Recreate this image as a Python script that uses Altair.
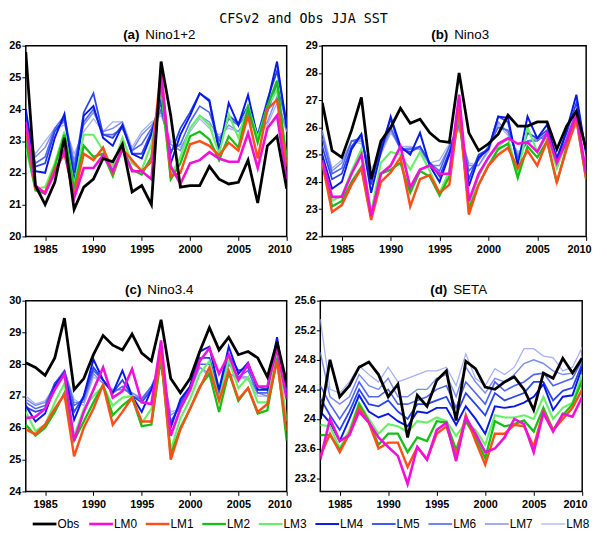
import altair as alt
import pandas as pd

years = list(range(1983, 2011))
names = ["Obs", "LM0", "LM1", "LM2", "LM3", "LM4", "LM5", "LM6", "LM7", "LM8"]
colors = ["#000000", "#f010d8", "#ff4e18", "#14c014", "#66f066", "#0818e6",
          "#2a44f2", "#5066f0", "#7a8cf2", "#a8b2f2"]
widths = [2.8, 1.3, 1.3, 1.3, 1.3, 1.3, 1.3, 1.3, 1.3, 1.3]

# ---------------- (a) Nino1+2 ----------------
a_obs = [25.8, 21.6, 21.0, 21.7, 23.1, 20.85, 21.55, 21.8, 22.45, 22.35, 22.9, 21.4, 21.6, 21.0,
         25.5, 23.8, 21.55, 21.6, 21.6, 22.2, 21.8, 21.65, 21.7, 22.4, 21.05, 22.85, 23.15, 21.5]
a_lm0 = [23.6, 21.6, 21.35, 22.0, 22.7, 21.2, 22.15, 22.15, 22.55, 22.05, 22.75, 22.05, 22.05, 21.8,
         25.1, 22.2, 21.65, 22.3, 22.4, 22.65, 22.45, 22.35, 22.35, 23.25, 22.15, 23.4, 23.8, 21.8]
a_lm1 = [23.4, 21.5, 21.4, 22.1, 22.6, 21.3, 22.6, 22.4, 22.8, 22.0, 22.75, 22.4, 22.05, 22.35,
         25.3, 21.9, 22.0, 22.9, 23.0, 22.85, 22.55, 22.95, 22.7, 23.8, 22.45, 24.0, 24.3, 22.2]
a_lm2 = [23.0, 21.45, 21.35, 22.2, 23.2, 21.5, 22.85, 22.5, 22.6, 21.9, 22.8, 22.1, 21.95, 22.5,
         24.8, 21.8, 22.3, 23.15, 23.3, 23.05, 22.4, 23.15, 22.8, 24.05, 22.95, 24.1, 24.9, 22.3]
a_lm3 = [22.8, 21.5, 21.55, 22.3, 23.3, 21.6, 23.2, 23.2, 22.7, 22.2, 23.1, 22.3, 22.1, 22.9,
         24.6, 21.9, 22.5, 23.4, 23.8, 23.5, 22.6, 23.85, 23.1, 24.1, 23.1, 24.1, 24.6, 22.5]
a_lm4 = [24.0, 22.05, 22.0, 23.1, 23.85, 21.7, 23.8, 24.1, 23.1, 22.85, 23.5, 22.6, 22.45, 23.2,
         24.4, 22.3, 23.2, 23.8, 24.5, 24.25, 22.65, 24.2, 23.5, 24.45, 23.1, 24.2, 25.5, 23.4]
a_lm5 = [23.8, 22.2, 22.3, 23.3, 23.7, 22.0, 23.9, 24.5, 23.2, 23.1, 23.5, 22.6, 22.6, 23.3,
         24.2, 22.6, 23.4, 23.9, 24.5, 24.3, 22.8, 23.8, 23.55, 24.1, 23.2, 24.3, 25.2, 23.6]
a_lm6 = [23.6, 22.3, 22.5, 23.4, 23.8, 22.2, 23.6, 24.0, 23.2, 23.2, 23.4, 22.7, 22.9, 23.4,
         24.0, 22.7, 22.9, 23.6, 24.1, 23.9, 23.0, 23.7, 23.5, 23.9, 23.1, 23.9, 24.8, 23.5]
a_lm7 = [23.4, 22.5, 22.8, 23.4, 23.6, 22.4, 23.5, 23.9, 23.3, 23.4, 23.6, 22.7, 23.2, 23.5,
         23.9, 22.9, 22.7, 23.4, 23.8, 23.6, 23.1, 23.5, 23.3, 23.8, 23.2, 23.6, 24.4, 23.3]
a_lm8 = [23.2, 22.6, 23.0, 23.4, 23.5, 22.6, 23.3, 23.7, 23.3, 23.6, 23.6, 22.8, 23.3, 23.6,
         23.8, 23.0, 22.8, 23.3, 23.7, 23.4, 23.2, 23.4, 23.3, 23.7, 23.2, 23.5, 24.2, 23.3]

# ---------------- (b) Nino3 ----------------
b_obs = [26.9, 25.15, 24.9, 25.9, 27.1, 24.1, 25.5, 26.0, 26.7, 26.15, 26.3, 25.8, 25.5, 25.45,
         28.0, 25.8, 25.15, 25.4, 25.75, 26.45, 26.05, 26.05, 26.2, 26.2, 25.2, 26.05, 26.6, 25.2]
b_lm0 = [24.8, 23.45, 23.45, 24.3, 25.0, 22.75, 24.3, 24.6, 25.3, 23.8, 24.45, 24.6, 24.3, 24.3,
         27.2, 23.3, 24.3, 24.9, 25.4, 25.6, 25.4, 25.45, 25.1, 25.8, 24.7, 25.5, 26.5, 24.3]
b_lm1 = [24.7, 22.9, 23.15, 23.9, 24.5, 22.6, 24.0, 24.35, 24.9, 23.1, 24.1, 24.25, 23.6, 23.9,
         26.7, 22.8, 23.9, 24.6, 25.0, 25.25, 24.5, 25.15, 24.6, 25.5, 24.0, 25.2, 26.3, 24.1]
b_lm2 = [24.7, 23.1, 23.3, 24.0, 24.55, 22.7, 24.3, 24.45, 24.7, 23.6, 24.4, 24.2, 23.5, 24.2,
         26.6, 23.0, 23.9, 24.6, 25.2, 25.4, 24.15, 25.3, 24.9, 25.5, 23.95, 25.3, 26.3, 24.1]
b_lm3 = [24.7, 23.3, 23.5, 24.4, 25.2, 22.9, 24.7, 25.1, 25.0, 24.45, 25.1, 24.4, 23.6, 24.4,
         26.4, 23.1, 24.2, 24.9, 25.3, 25.6, 24.3, 26.0, 25.1, 25.7, 24.5, 25.5, 26.4, 24.3]
b_lm4 = [25.0, 23.75, 24.0, 25.2, 25.75, 23.6, 25.1, 26.4, 25.3, 25.0, 25.8, 24.6, 24.0, 25.0,
         26.3, 23.85, 24.9, 25.2, 26.4, 26.35, 24.6, 26.4, 25.6, 26.1, 24.8, 25.9, 27.2, 25.0]
b_lm5 = [25.3, 24.1, 24.3, 25.3, 25.75, 23.9, 25.3, 26.3, 25.2, 25.1, 25.3, 24.7, 24.2, 25.1,
         26.2, 24.1, 25.0, 25.2, 26.4, 26.2, 24.7, 25.8, 25.6, 25.9, 24.9, 25.8, 26.9, 25.1]
b_lm6 = [25.6, 24.3, 24.5, 25.5, 25.6, 24.1, 25.2, 26.0, 25.2, 25.2, 25.3, 24.7, 24.4, 25.3,
         26.1, 24.4, 24.8, 25.3, 26.0, 25.9, 24.9, 25.5, 25.5, 25.8, 24.8, 25.6, 26.6, 25.2]
b_lm7 = [25.8, 24.4, 24.7, 25.5, 25.5, 24.3, 25.1, 25.9, 25.2, 25.25, 25.2, 24.6, 24.6, 25.3,
         26.0, 24.6, 24.6, 25.2, 26.2, 25.8, 25.0, 25.5, 25.6, 25.6, 24.9, 25.4, 26.3, 25.3]
b_lm8 = [25.9, 24.5, 24.8, 25.5, 25.4, 24.5, 25.0, 25.8, 25.3, 25.3, 25.2, 24.7, 24.8, 25.4,
         25.9, 24.7, 24.6, 25.1, 26.1, 25.7, 25.1, 25.4, 25.6, 25.6, 25.0, 25.3, 26.1, 25.3]

# ---------------- (c) Nino3.4 ----------------
c_obs = [28.05, 27.9, 27.65, 28.2, 29.45, 27.2, 27.55, 28.3, 28.9, 28.6, 28.45, 28.95, 28.35, 28.1,
         29.4, 27.55, 27.1, 27.55, 28.4, 29.15, 28.45, 28.85, 28.3, 28.4, 28.2, 27.6, 28.7, 27.4]
c_lm0 = [26.3, 26.35, 26.6, 27.2, 27.7, 25.6, 26.5, 27.2, 27.9, 26.95, 27.15, 27.85, 26.8, 26.75,
         28.75, 25.75, 26.6, 27.2, 28.1, 28.5, 27.7, 28.3, 27.5, 28.0, 27.3, 27.3, 28.5, 26.9]
c_lm1 = [25.95, 25.8, 26.1, 26.6, 27.05, 25.1, 26.0, 26.6, 27.35, 26.1, 26.5, 26.95, 26.2, 26.2,
         28.4, 25.0, 25.95, 26.6, 27.25, 27.9, 26.85, 27.8, 26.9, 27.25, 26.5, 26.75, 28.1, 25.9]
c_lm2 = [26.1, 25.75, 26.0, 26.5, 27.1, 25.6, 26.2, 26.8, 27.35, 26.4, 26.7, 26.95, 26.05, 26.1,
         28.2, 25.15, 26.0, 26.6, 27.3, 27.7, 26.5, 27.75, 26.85, 27.25, 26.45, 26.55, 28.2, 25.6]
c_lm3 = [26.5, 25.9, 26.1, 26.8, 27.4, 25.75, 26.6, 27.0, 27.3, 26.7, 26.95, 27.0, 26.15, 26.6,
         28.2, 25.3, 26.3, 26.9, 27.7, 28.1, 26.9, 28.15, 27.25, 27.6, 26.8, 26.8, 28.5, 26.2]
c_lm4 = [26.7, 26.2, 26.45, 27.3, 27.75, 26.25, 27.0, 28.15, 27.5, 27.1, 27.8, 27.0, 26.5, 27.2,
         28.0, 26.0, 26.9, 27.3, 28.4, 28.55, 27.2, 28.55, 27.7, 28.05, 27.2, 27.2, 28.85, 27.0]
c_lm5 = [26.65, 26.5, 26.6, 27.4, 27.7, 26.5, 27.0, 27.9, 27.5, 27.1, 27.5, 27.0, 26.8, 27.2,
         28.0, 26.1, 26.8, 27.3, 28.2, 28.2, 27.1, 28.3, 27.8, 27.9, 27.3, 27.2, 28.7, 27.1]
c_lm6 = [26.8, 26.6, 26.7, 27.4, 27.8, 26.7, 26.9, 27.8, 27.5, 27.1, 27.3, 27.0, 26.9, 27.3,
         28.0, 26.2, 26.7, 27.3, 28.0, 28.0, 27.1, 28.0, 27.6, 27.8, 27.1, 27.1, 28.5, 27.1]
c_lm7 = [26.9, 26.7, 26.8, 27.3, 27.8, 26.8, 26.8, 27.7, 27.4, 27.2, 27.2, 27.1, 26.9, 27.3,
         28.0, 26.4, 26.6, 27.2, 27.9, 27.7, 27.1, 27.7, 27.6, 27.6, 27.1, 27.0, 28.4, 27.1]
c_lm8 = [27.0, 26.75, 26.85, 27.3, 27.8, 26.9, 26.7, 27.6, 27.4, 27.2, 27.2, 27.1, 26.95, 27.3,
         28.0, 26.5, 26.6, 27.1, 27.9, 27.6, 27.1, 27.6, 27.6, 27.5, 27.0, 27.0, 28.3, 27.1]

# ---------------- (d) SETA ----------------
d_obs = [24.0, 24.8, 24.3, 24.45, 24.7, 24.77, 24.6, 24.3, 24.47, 23.75, 24.32, 24.17, 24.52, 24.65,
         23.98, 24.78, 24.68, 24.43, 24.4, 24.5, 24.57, 24.4, 24.12, 24.62, 24.55, 24.82, 24.62, 24.82]
d_lm0 = [23.45, 24.0, 23.7, 23.78, 24.1, 23.95, 23.75, 23.62, 23.5, 23.12, 23.62, 23.45, 23.85, 23.95,
         23.43, 24.02, 23.8, 23.55, 23.6, 23.75, 24.0, 23.93, 23.55, 24.08, 23.83, 24.07, 24.03, 24.3]
d_lm1 = [23.5, 23.8, 23.55, 23.8, 24.15, 23.95, 23.6, 23.68, 23.68, 23.35, 23.62, 23.45, 23.8, 23.9,
         23.5, 24.05, 23.7, 23.38, 23.8, 23.8, 23.92, 23.9, 23.63, 24.1, 23.85, 24.0, 24.15, 24.4]
d_lm2 = [23.78, 23.78, 23.58, 23.8, 24.2, 23.97, 23.65, 23.8, 23.8, 23.55, 23.75, 23.7, 23.97, 23.95,
         23.58, 23.97, 23.75, 23.47, 23.97, 23.9, 23.93, 23.98, 23.83, 24.15, 23.85, 24.05, 24.2, 24.52]
d_lm3 = [23.92, 23.9, 23.6, 23.85, 24.22, 24.0, 23.8, 23.93, 23.9, 23.82, 23.97, 23.95, 24.02, 23.97,
         23.77, 23.95, 23.85, 23.65, 24.05, 24.02, 24.02, 24.05, 24.0, 24.3, 24.0, 24.15, 24.22, 24.6]
d_lm4 = [24.1, 23.95, 23.7, 24.0, 24.32, 24.1, 24.02, 24.07, 23.97, 23.9, 24.1, 24.08, 24.15, 24.15,
         23.92, 24.17, 24.0, 23.8, 24.17, 24.15, 24.17, 24.22, 24.3, 24.47, 24.12, 24.3, 24.32, 24.7]
d_lm5 = [24.28, 24.05, 23.85, 24.1, 24.4, 24.2, 24.17, 24.25, 24.1, 24.0, 24.2, 24.2, 24.25, 24.3,
         24.05, 24.35, 24.2, 24.05, 24.35, 24.25, 24.3, 24.35, 24.5, 24.5, 24.25, 24.38, 24.42, 24.75]
d_lm6 = [24.45, 24.2, 24.0, 24.2, 24.5, 24.3, 24.3, 24.4, 24.2, 24.2, 24.25, 24.3, 24.4, 24.45,
         24.15, 24.5, 24.35, 24.2, 24.5, 24.38, 24.45, 24.5, 24.6, 24.62, 24.45, 24.5, 24.55, 24.8]
d_lm7 = [24.9, 24.3, 24.2, 24.3, 24.6, 24.45, 24.4, 24.55, 24.3, 24.3, 24.4, 24.4, 24.55, 24.6,
         24.3, 24.7, 24.5, 24.35, 24.55, 24.5, 24.6, 24.75, 24.8, 24.75, 24.65, 24.6, 24.62, 24.85]
d_lm8 = [25.35, 24.4, 24.35, 24.5, 24.72, 24.6, 24.5, 24.7, 24.5, 24.55, 24.6, 24.65, 24.65, 24.7,
         24.45, 24.88, 24.55, 24.45, 24.68, 24.6, 24.7, 24.95, 24.95, 24.85, 24.83, 24.65, 24.7, 24.97]

panels = {
    "a": [a_obs, a_lm0, a_lm1, a_lm2, a_lm3, a_lm4, a_lm5, a_lm6, a_lm7, a_lm8],
    "b": [b_obs, b_lm0, b_lm1, b_lm2, b_lm3, b_lm4, b_lm5, b_lm6, b_lm7, b_lm8],
    "c": [c_obs, c_lm0, c_lm1, c_lm2, c_lm3, c_lm4, c_lm5, c_lm6, c_lm7, c_lm8],
    "d": [d_obs, d_lm0, d_lm1, d_lm2, d_lm3, d_lm4, d_lm5, d_lm6, d_lm7, d_lm8],
}
for k, v in panels.items():
    for s in v:
        assert len(s) == len(years), (k, len(s))

TICKFONT = "Liberation Sans, Arial, sans-serif"
SANS = "Liberation Sans, Arial, sans-serif"

H = 193
color_scale = alt.Scale(domain=names, range=colors)
width_scale = alt.Scale(domain=names, range=widths)


def panel(key, tag, label, ymin, ymax, yticks, yfmt, width, shift):
    vals = panels[key]
    rows = []
    for i in range(len(names) - 1, 0, -1):
        for yr, v in zip(years, vals[i]):
            rows.append({"year": yr, "sst": v, "series": names[i]})
    models = pd.DataFrame(rows)
    obs = pd.DataFrame({"year": years, "sst": vals[0], "series": "Obs"})

    x = alt.X("year:Q", scale=alt.Scale(domain=[1983, 2010], nice=False, zero=False),
              axis=alt.Axis(values=[1985, 1990, 1995, 2000, 2005, 2010], format="d", title=None,
                            labelFlush=True, labelFlushOffset=5, labelPadding=3))
    y = alt.Y("sst:Q", scale=alt.Scale(domain=[ymin, ymax], nice=False, zero=False),
              axis=alt.Axis(values=yticks, format=yfmt, title=None, labelPadding=1))
    col = alt.Color("series:N", scale=color_scale, legend=None)
    sw = alt.StrokeWidth("series:N", scale=width_scale, legend=None)

    lm = alt.Chart(models).mark_line(clip=True).encode(x=x, y=y, color=col, strokeWidth=sw)
    ob = alt.Chart(obs).mark_line(clip=True).encode(x=x, y=y, color=col, strokeWidth=sw)
    cx = width / 2 + shift
    t1 = alt.Chart(pd.DataFrame({"t": [tag]})).mark_text(
        font=SANS, fontSize=13.5, fontWeight="bold", align="right", baseline="middle",
        color="black").encode(text="t:N", x=alt.value(cx - 3), y=alt.value(-11))
    t2 = alt.Chart(pd.DataFrame({"t": [label]})).mark_text(
        font=SANS, fontSize=13.5, fontWeight="normal", align="left", baseline="middle",
        color="black").encode(text="t:N", x=alt.value(cx + 3), y=alt.value(-11))
    return alt.layer(lm, ob, t1, t2).properties(width=width, height=H)


pa = panel("a", "(a)", "Nino1+2", 20, 26, [20, 21, 22, 23, 24, 25, 26], "d", 264, -14)
pb = panel("b", "(b)", "Nino3", 22, 29, [22, 23, 24, 25, 26, 27, 28, 29], "d", 267, -3)
pc = panel("c", "(c)", "Nino3.4", 24, 30, [24, 25, 26, 27, 28, 29, 30], "d", 264, -12)
pd_ = panel("d", "(d)", "SETA", 23.02, 25.6, [23.2, 23.6, 24.0, 24.4, 24.8, 25.2, 25.6],
            ".1~f", 265, -1)

# ---------------- legend row (built from the series list) ----------------
LW = 580
PITCH = 57.2
leg_df = pd.DataFrame({"series": names, "idx": list(range(len(names)))})
leg_base = alt.Chart(leg_df).transform_calculate(
    x0=f"datum.idx + 7 / {PITCH}",
    x1=f"datum.idx + 31 / {PITCH}",
    xt=f"datum.idx + 32 / {PITCH}",
)
lx = alt.Scale(domain=[0, LW / PITCH], nice=False, zero=False)
leg_lines = leg_base.mark_rule().encode(
    x=alt.X("x0:Q", scale=lx, axis=None), x2="x1:Q", y=alt.value(6),
    color=alt.Color("series:N", scale=color_scale, legend=None),
    strokeWidth=alt.StrokeWidth("series:N", scale=width_scale, legend=None),
)
leg_text = leg_base.mark_text(align="left", baseline="middle", font=SANS, fontSize=12,
                              color="black").encode(
    x=alt.X("xt:Q", scale=lx, axis=None), y=alt.value(6.5), text="series:N")
legend_row = alt.layer(leg_lines, leg_text).properties(
    width=LW, height=12, view=alt.ViewConfig(strokeWidth=0))

row1 = alt.hconcat(pa, pb, spacing=12)
row2 = alt.hconcat(pc, pd_, spacing=0)
panels_block = alt.vconcat(row1, row2, spacing=27)

chart = alt.vconcat(panels_block, legend_row, spacing=8).properties(
    title=alt.TitleParams("CFSv2 and Obs JJA SST", font="DejaVu Sans Mono", fontSize=13.5,
                          fontWeight="normal", anchor="middle", color="black", offset=2),
    padding={"left": 0, "top": 0, "right": 0, "bottom": 0},
).configure_axis(
    labelFont=TICKFONT, labelFontWeight="bold", labelFontSize=11, labelColor="black",
    tickColor="black", tickSize=4, tickWidth=1, domain=False, grid=False,
).configure_view(
    stroke="black", strokeWidth=1.5
)

chart.save("out.html", embed_options={"renderer": "svg", "actions": False})
